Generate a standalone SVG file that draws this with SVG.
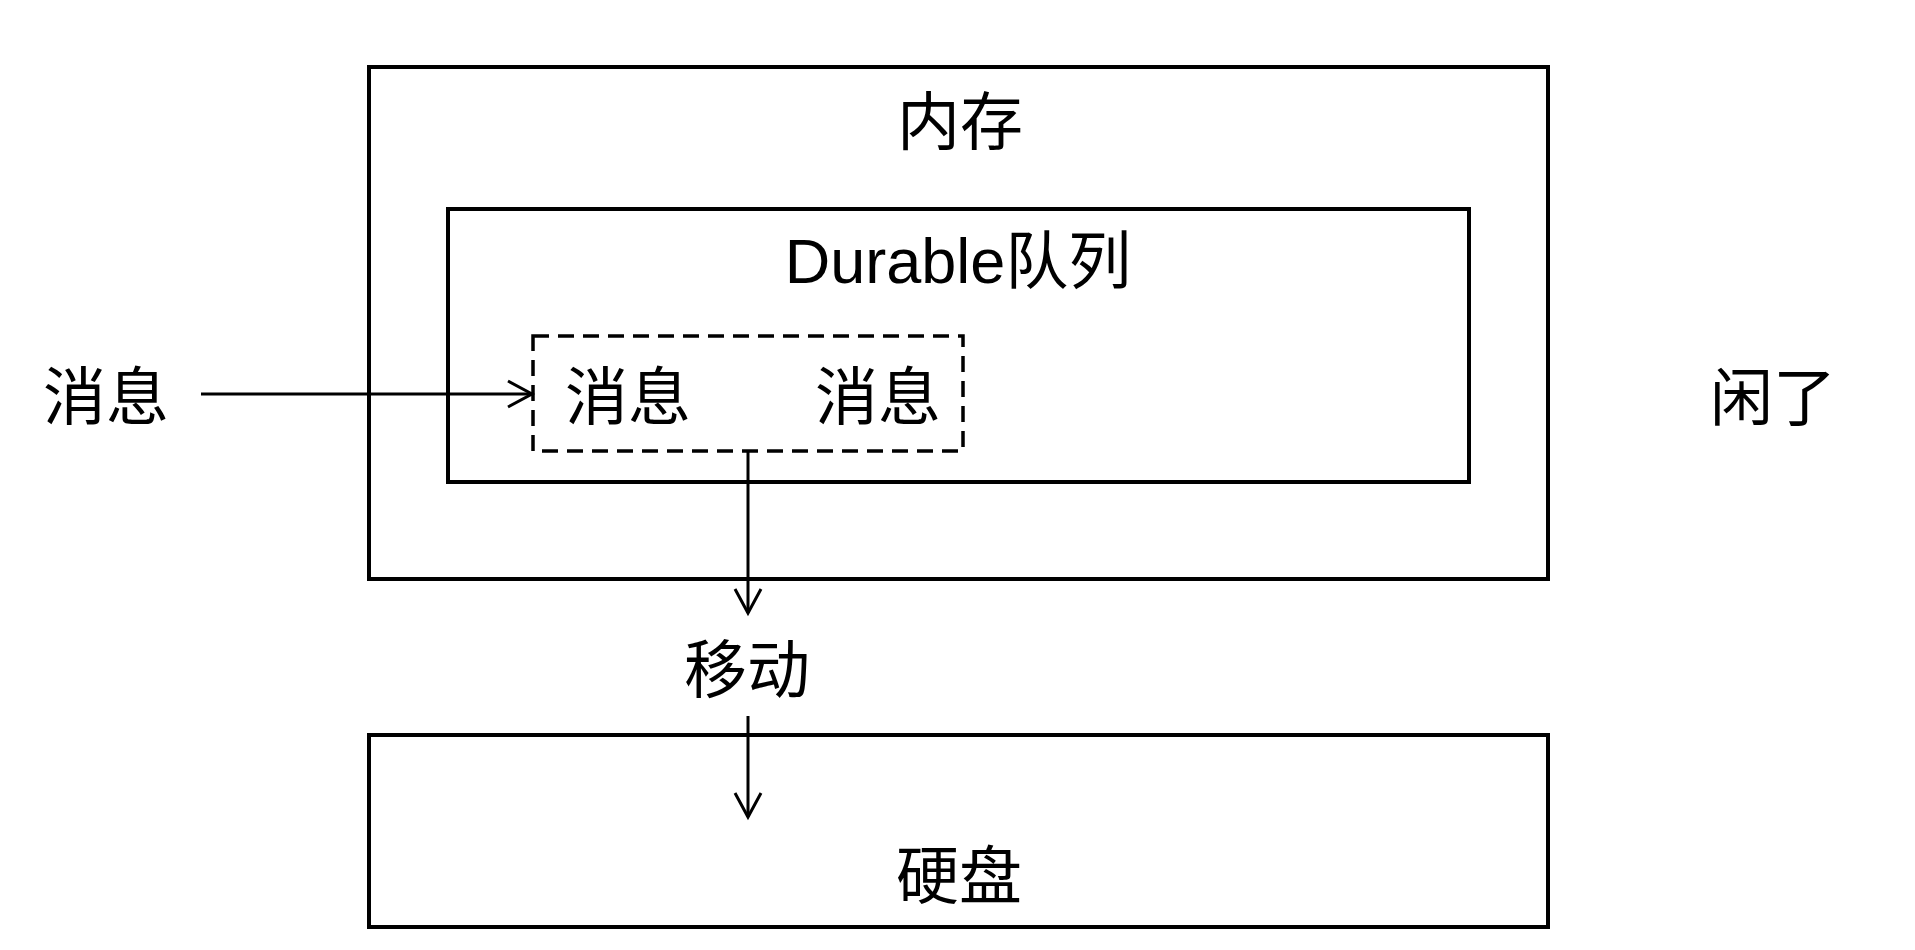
<svg xmlns="http://www.w3.org/2000/svg" width="1915" height="950" viewBox="0 0 1915 950">
<style>
.box{fill:none;stroke:#000;stroke-width:4}
.dash{fill:none;stroke:#000;stroke-width:3.5;stroke-dasharray:16 9}
.t{font-family:"Liberation Sans","Noto Sans CJK SC",sans-serif;font-size:63px;fill:#000;text-anchor:middle}
.conn{fill:none;stroke:#000;stroke-width:3}
</style>
<defs>
<marker id="arr" viewBox="0 0 30 30" refX="26" refY="15" markerWidth="30" markerHeight="30" markerUnits="userSpaceOnUse" orient="auto">
<path d="M2,2 L26,15 L2,28" fill="none" stroke="#000" stroke-width="3"/>
</marker>
</defs>
<rect width="1915" height="950" fill="#fff"/>
<g id="memory">
<rect class="box" x="369" y="67" width="1179" height="512"/>
<text class="t" x="960" y="144">内存</text>
</g>
<g id="durable-queue">
<rect class="box" x="448" y="209" width="1021" height="273"/>
<text class="t" x="958" y="283">Durable队列</text>
</g>
<g id="messages">
<rect class="dash" x="533" y="336" width="430" height="115"/>
<text class="t" x="628" y="419">消息</text>
<text class="t" x="878" y="419">消息</text>
</g>
<g id="msg-in">
<text class="t" x="106" y="419">消息</text>
</g>
<g id="idle">
<text class="t" x="1773" y="420">闲了</text>
</g>
<g id="move">
<text class="t" x="747" y="692">移动</text>
</g>
<g id="disk">
<rect class="box" x="369" y="735" width="1179" height="192"/>
<text class="t" x="959" y="898">硬盘</text>
</g>
<g id="connectors">
<line class="conn" x1="201" y1="394" x2="532" y2="394" marker-end="url(#arr)"/>
<line class="conn" x1="748" y1="451" x2="748" y2="613" marker-end="url(#arr)"/>
<line class="conn" x1="748" y1="716" x2="748" y2="817" marker-end="url(#arr)"/>
</g>
</svg>
